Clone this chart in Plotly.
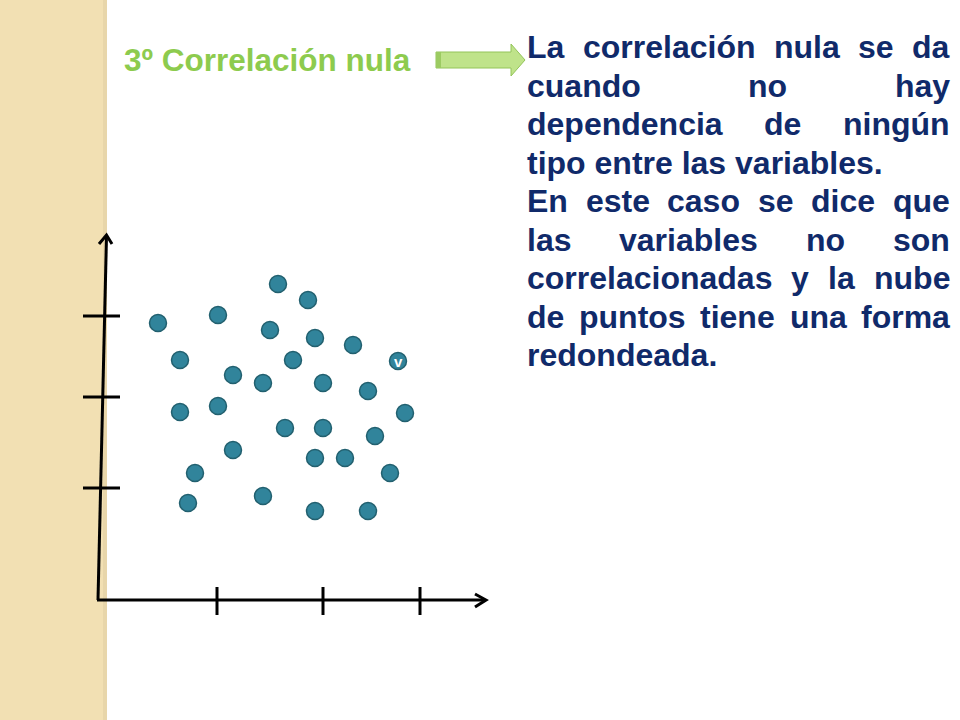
import plotly.graph_objects as go

# ---- data ----
point_x = [1.80, 2.10, 0.60, 1.20, 1.72, 2.17, 2.55, 0.82, 1.95, 3.00,
           1.35, 1.65, 2.25, 2.70, 0.82, 1.20, 3.07, 1.87, 2.25, 2.77,
           1.35, 2.17, 2.47, 2.92, 0.97, 0.90, 1.65, 2.17, 2.70]
point_y = [3.16, 3.00, 2.77, 2.85, 2.70, 2.62, 2.55, 2.40, 2.40, 2.39,
           2.25, 2.17, 2.17, 2.09, 1.88, 1.94, 1.87, 1.72, 1.72, 1.64,
           1.50, 1.42, 1.42, 1.27, 1.27, 0.97, 1.04, 0.89, 0.89]
x_ticks = [1.19, 2.25, 3.22]
y_ticks = [1.12, 2.03, 2.84]

title_text = "3º Correlación nula"
body_lines = [
    "La correlación nula se da",
    "cuando no hay",
    "dependencia de ningún",
    "tipo entre las variables.",
    "En este caso se dice que",
    "las variables no son",
    "correlacionadas y la nube",
    "de puntos tiene una forma",
    "redondeada.",
]
justified = [True, True, True, False, True, True, True, True, False]
line_py = [47, 86, 124, 163, 201, 240, 278, 317, 355]

# pixel -> data helpers (1 data unit = 100 px, origin at pixel (98, 600))
def X(px):
    return (px - 98) / 100.0

def Y(py):
    return (600 - py) / 100.0

TEAL = "#31849B"
TEAL_EDGE = "#22606F"
NAVY = "#102A6A"
GREEN = "#8DCB4E"
FONT = "Liberation Sans, Arial, sans-serif"
BODY_SIZE = 32
TITLE_SIZE = 31.5
TEXT_LEFT, TEXT_RIGHT = 527, 950

# Arial/Liberation Sans Bold advance widths (1/1000 em) for justification
W = {" ": 278, ".": 278, "a": 556, "b": 611, "c": 556, "d": 611, "e": 556, "f": 333,
     "g": 611, "h": 611, "i": 278, "j": 278, "k": 556, "l": 278, "m": 889, "n": 611,
     "o": 611, "p": 611, "q": 611, "r": 389, "s": 556, "t": 333, "u": 611, "v": 556,
     "w": 778, "x": 556, "y": 556, "z": 500, "E": 667, "L": 611, "ó": 611, "ú": 611}

def word_width(w, size):
    return sum(W.get(ch, 600) for ch in w) / 1000.0 * size

fig = go.Figure()

fig.add_trace(go.Scatter(
    x=point_x, y=point_y, mode="markers",
    marker=dict(size=17, color=TEAL, line=dict(color=TEAL_EDGE, width=1.5)),
    hoverinfo="skip", showlegend=False,
))

shapes = []
# left beige strip
shapes.append(dict(type="rect", xref="paper", yref="paper", x0=0, x1=105 / 960, y0=0, y1=1,
                   fillcolor="#F2E0B3", line=dict(width=0), layer="below"))
shapes.append(dict(type="rect", xref="paper", yref="paper", x0=103 / 960, x1=107 / 960, y0=0, y1=1,
                   fillcolor="#E8D6AA", line=dict(width=0), layer="below"))

ax_line = dict(color="black", width=3)
# y axis (slightly slanted) and its arrow head
shapes.append(dict(type="line", x0=X(98), y0=Y(600), x1=X(106.5), y1=Y(236), line=ax_line))
shapes.append(dict(type="path", path=f"M {X(99)} {Y(244)} L {X(106.5)} {Y(235)} L {X(112)} {Y(244)}",
                   line=ax_line))
# x axis and arrow head
shapes.append(dict(type="line", x0=X(97), y0=Y(600), x1=X(485), y1=Y(600), line=ax_line))
shapes.append(dict(type="path", path=f"M {X(475)} {Y(594)} L {X(486)} {Y(600)} L {X(475)} {Y(607)}",
                   line=ax_line))
# ticks
for t in x_ticks:
    shapes.append(dict(type="line", x0=t, x1=t, y0=Y(587), y1=Y(615), line=ax_line))
for t in y_ticks:
    shapes.append(dict(type="line", x0=X(83), x1=X(120), y0=t, y1=t, line=ax_line))

# green block arrow
shapes.append(dict(type="path",
                   path=(f"M {X(436)} {Y(52)} L {X(511)} {Y(52)} L {X(511)} {Y(44)} "
                         f"L {X(525)} {Y(60)} L {X(511)} {Y(76)} L {X(511)} {Y(68)} "
                         f"L {X(436)} {Y(68)} Z"),
                   fillcolor="#BFE38A", line=dict(color="#93C459", width=1)))
shapes.append(dict(type="rect", x0=X(436), x1=X(441), y0=Y(68), y1=Y(52),
                   fillcolor="#9CCB62", line=dict(width=0)))

annotations = []
annotations.append(dict(x=X(122), y=Y(60), text=title_text, showarrow=False,
                        xanchor="left", yanchor="middle",
                        font=dict(family=FONT, size=TITLE_SIZE, color=GREEN, weight="bold")))
# white "v" on one point
annotations.append(dict(x=point_x[9], y=point_y[9], text="v", showarrow=False,
                        xanchor="center", yanchor="middle",
                        font=dict(family=FONT, size=15, color="white", weight="bold")))

body_font = dict(family=FONT, size=BODY_SIZE, color=NAVY, weight="bold")
for line, py, just in zip(body_lines, line_py, justified):
    if not just:
        annotations.append(dict(x=X(TEXT_LEFT - 2), y=Y(py), text=line, showarrow=False,
                                xanchor="left", yanchor="middle", font=body_font))
        continue
    words = line.split(" ")
    widths = [word_width(w, BODY_SIZE) for w in words]
    gap = (TEXT_RIGHT - TEXT_LEFT - sum(widths)) / (len(words) - 1)
    pos = TEXT_LEFT
    for w, wd in zip(words, widths):
        annotations.append(dict(x=X(pos + wd / 2), y=Y(py), text=w, showarrow=False,
                                xanchor="center", yanchor="middle", font=body_font))
        pos += wd + gap

fig.update_layout(
    width=960, height=720,
    margin=dict(l=0, r=0, t=0, b=0),
    paper_bgcolor="white", plot_bgcolor="white",
    xaxis=dict(range=[X(0), X(960)], visible=False, fixedrange=True),
    yaxis=dict(range=[Y(720), Y(0)], visible=False, fixedrange=True),
    shapes=shapes, annotations=annotations,
    showlegend=False,
)

fig.write_html("out.html", config={"displayModeBar": False},
               post_script="document.body.style.margin='0';document.body.style.overflow='hidden';")
